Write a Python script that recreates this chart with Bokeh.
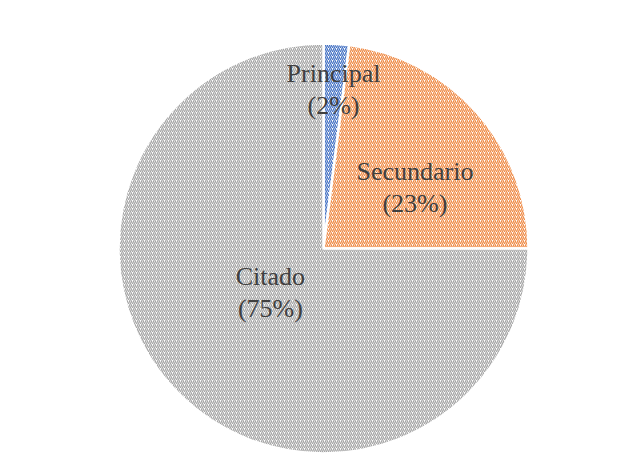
import math
from bokeh.plotting import figure
from bokeh.models import ColumnDataSource
from bokeh.embed import file_html
from bokeh.resources import INLINE
from bokeh.core.properties import value

categories = ["Principal", "Secundario", "Citado"]
percents = [2, 23, 75]
hatch_colors = ["#4472c4", "#ef8a45", "#a5a5a5"]

W, H = 615, 457
p = figure(width=W, height=H, x_range=(0, W), y_range=(0, H),
           output_backend="svg", toolbar_location=None, min_border=0)
p.axis.visible = False
p.grid.visible = False
p.outline_line_color = None
p.background_fill_color = "white"
p.border_fill_color = "white"

cx, cy, r = 323, H - 248, 205
total = sum(percents)
starts, ends = [], []
cum = 0
for v in percents:
    starts.append(math.pi / 2 - 2 * math.pi * cum / total)
    cum += v
    ends.append(math.pi / 2 - 2 * math.pi * cum / total)

src = ColumnDataSource(dict(start=starts, end=ends, hc=hatch_colors,
                            x=[cx] * 3, y=[cy] * 3))
p.wedge(x="x", y="y", radius=r, start_angle="start", end_angle="end",
        direction="clock", source=src, fill_color="white",
        hatch_pattern="/", hatch_color="hc", hatch_scale=4, hatch_weight=1.3,
        line_color="white", line_width=2.5)

# label placement (angle in degrees, radial distance in px)
label_pos = [(86.4, 159), (33.8, 110), (-140.3, 69)]
lx, ly1, ly2, t1, t2 = [], [], [], [], []
for cat, v, (a, d) in zip(categories, percents, label_pos):
    x = cx + d * math.cos(math.radians(a))
    y = cy + d * math.sin(math.radians(a))
    lx.append(x)
    ly1.append(y + 16)
    ly2.append(y - 16)
    t1.append(cat)
    t2.append(f"({v}%)")

p.text(x=lx, y=ly1, text=t1, text_align="center", text_baseline="middle",
       text_font=value("Liberation Serif"), text_font_size="26px", text_color="#404040")
p.text(x=lx, y=ly2, text=t2, text_align="center", text_baseline="middle",
       text_font=value("Liberation Serif"), text_font_size="26px", text_color="#404040")

open("out.html", "w").write(file_html(p, INLINE))
